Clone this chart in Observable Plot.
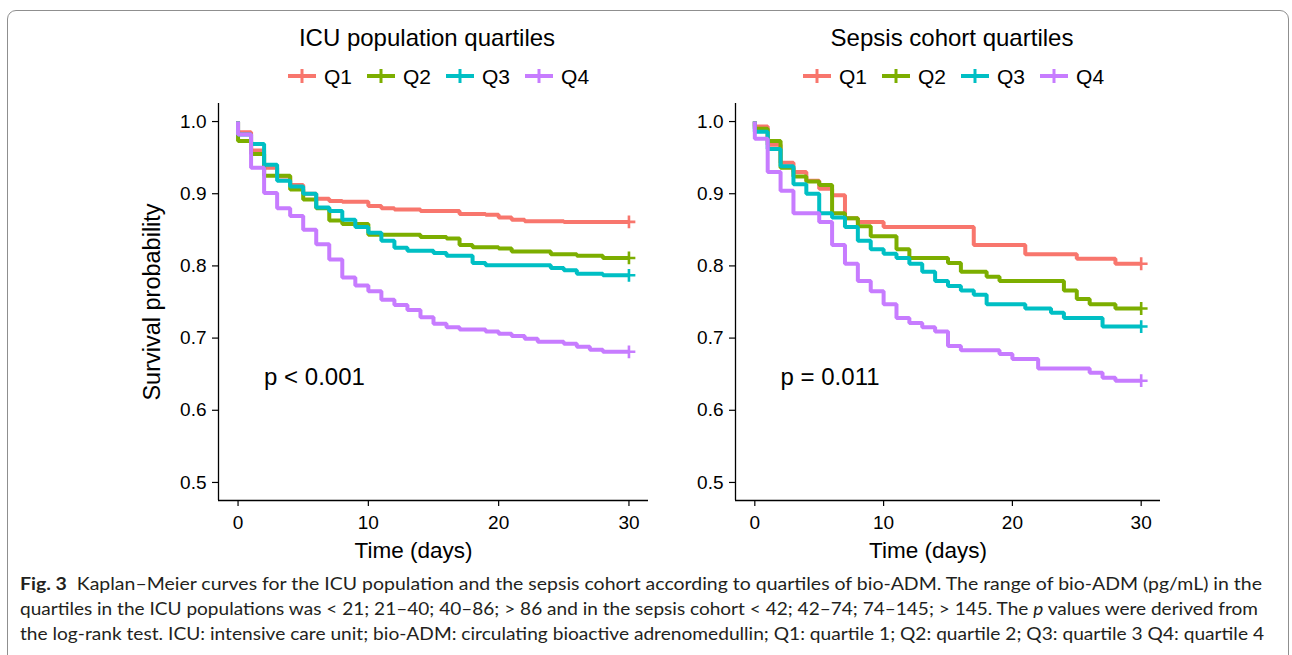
<!DOCTYPE html>
<html>
<head>
<meta charset="utf-8">
<script src="https://cdn.jsdelivr.net/npm/d3@7"></script>
<script src="https://cdn.jsdelivr.net/npm/@observablehq/plot@0.6"></script>
<style>
  html, body { margin: 0; padding: 0; background: #fff; }
  body { width: 1292px; height: 655px; overflow: hidden; position: relative; font-family: "Liberation Sans", Arial, sans-serif; color: #000; }
  #frame { position: absolute; left: 7px; top: 10px; width: 1282px; height: 690px; border: 1px solid #8f8f8f; border-radius: 9px; box-sizing: border-box; }
  .title { position: absolute; top: 26px; font-size: 24px; white-space: nowrap; transform: translateX(-50%); line-height: 1; }
  .legend { position: absolute; top: 64px; display: flex; align-items: center; height: 24px; }
  .legend .item { display: flex; align-items: center; margin-right: 15px; }
  .legend .lab { font-size: 21px; margin-left: 8px; line-height: 1; }
  .plot { position: absolute; top: 90px; }
  #caption { position: absolute; left: 0; top: 560px; }
</style>
</head>
<body>
<div id="frame"></div>
<div id="root"></div>
<script>
// ---------- data ----------
const quartiles = ["Q1", "Q2", "Q3", "Q4"];
const colors = ["#F8766D", "#7CAE00", "#00BFC4", "#C77CFF"];
const panelTitles = ["ICU population quartiles", "Sepsis cohort quartiles"];
const pValues = ["p < 0.001", "p = 0.011"];
const xTicks = [0, 10, 20, 30];
const yTicks = [0.5, 0.6, 0.7, 0.8, 0.9, 1.0];
const xLabel = "Time (days)";
const yLabel = "Survival probability";

// ICU population: [day, survival]
const icuQ1 = [[0,1],[0,0.985],[1,0.960],[2,0.936],[3,0.924],[4,0.912],[5,0.900],[6,0.893],[7,0.890],[8,0.889],[10,0.883],[11,0.880],[12,0.878],[14,0.876],[17,0.872],[19,0.871],[20,0.867],[21,0.864],[22,0.862],[25,0.861],[30,0.861]];
const icuQ2 = [[0,1],[0,0.973],[1,0.955],[2,0.925],[4,0.906],[5,0.892],[6,0.880],[7,0.863],[8,0.858],[10,0.843],[14,0.840],[16,0.838],[17,0.829],[18,0.826],[20,0.824],[21,0.820],[24,0.816],[26,0.814],[28,0.811],[30,0.811]];
const icuQ3 = [[0,1],[0,0.982],[1,0.969],[2,0.940],[3,0.918],[4,0.910],[5,0.900],[6,0.881],[7,0.876],[8,0.864],[9,0.854],[10,0.846],[11,0.835],[12,0.825],[13,0.821],[15,0.818],[16,0.814],[18,0.804],[19,0.801],[24,0.797],[25,0.794],[26,0.789],[28,0.787],[30,0.787]];
const icuQ4 = [[0,1],[0,0.982],[1,0.936],[2,0.901],[3,0.880],[4,0.869],[5,0.850],[6,0.830],[7,0.809],[8,0.784],[9,0.773],[10,0.765],[11,0.753],[12,0.746],[13,0.739],[14,0.729],[15,0.720],[16,0.715],[17,0.712],[19,0.709],[20,0.706],[21,0.703],[22,0.699],[23,0.695],[25,0.692],[26,0.688],[27,0.684],[28,0.681],[30,0.681]];

// Sepsis cohort: [day, survival]
const sepQ1 = [[0,1],[0,0.993],[1,0.968],[2,0.943],[3,0.930],[4,0.918],[5,0.907],[6,0.898],[7,0.866],[8,0.861],[10,0.854],[17,0.829],[21,0.816],[25,0.810],[28,0.803],[30,0.803]];
const sepQ2 = [[0,1],[0,0.990],[1,0.973],[2,0.936],[3,0.924],[4,0.917],[5,0.912],[6,0.873],[7,0.866],[8,0.855],[9,0.841],[11,0.823],[12,0.811],[15,0.804],[16,0.792],[18,0.785],[19,0.779],[24,0.766],[25,0.754],[26,0.747],[28,0.741],[30,0.741]];
const sepQ3 = [[0,1],[0,0.986],[1,0.962],[2,0.938],[3,0.913],[4,0.900],[5,0.873],[6,0.867],[7,0.854],[8,0.835],[9,0.823],[10,0.817],[11,0.811],[12,0.803],[13,0.792],[14,0.779],[15,0.772],[16,0.766],[17,0.760],[18,0.747],[21,0.741],[23,0.735],[24,0.728],[27,0.716],[30,0.716]];
const sepQ4 = [[0,1],[0,0.976],[1,0.930],[2,0.904],[3,0.873],[5,0.861],[6,0.829],[7,0.803],[8,0.779],[9,0.765],[10,0.747],[11,0.728],[12,0.721],[13,0.715],[14,0.709],[15,0.689],[16,0.683],[19,0.678],[20,0.671],[22,0.658],[26,0.652],[27,0.645],[28,0.641],[30,0.641]];

const captionLine1Bold = "Fig. 3";
const captionLine1 = "  Kaplan–Meier curves for the ICU population and the sepsis cohort according to quartiles of bio-ADM. The range of bio-ADM (pg/mL) in the";
const captionLine2a = "quartiles in the ICU populations was < 21; 21–40; 40–86; > 86 and in the sepsis cohort < 42; 42–74; 74–145; > 145. The ";
const captionLine2Italic = "p";
const captionLine2b = " values were derived from";
const captionLine3 = "the log-rank test. ICU: intensive care unit; bio-ADM: circulating bioactive adrenomedullin; Q1: quartile 1; Q2: quartile 2; Q3: quartile 3 Q4: quartile 4";

// ---------- drawing ----------
const FONT = "'Liberation Sans', Arial, sans-serif";
const root = document.getElementById("root");

function kmPlot(series, pText, opts) {
  const data = series.flatMap((s, i) => s.map(([t, v]) => ({t, v, q: quartiles[i]})));
  const ends = series.map((s, i) => ({t: s[s.length - 1][0], v: s[s.length - 1][1], q: quartiles[i]}));
  const marks = [
    Plot.ruleX([-1.5], {stroke: "#000", strokeWidth: 1.3}),
    Plot.ruleY([0.475], {stroke: "#000", strokeWidth: 1.3}),
    Plot.axisX({ticks: xTicks, tickSize: 6, tickPadding: 9, label: null, fontSize: 19, strokeWidth: 1.2}),
    Plot.axisY({ticks: yTicks, tickFormat: d => d.toFixed(1), tickSize: 6, tickPadding: 6, label: null, fontSize: 19, strokeWidth: 1.2}),
    Plot.line(data, {x: "t", y: "v", z: "q", stroke: "q", curve: "step-after", strokeWidth: 4, strokeLinejoin: "miter", strokeLinecap: "butt"}),
    Plot.dot(ends, {x: "t", y: "v", stroke: "q", symbol: "plus", r: 4.2, strokeWidth: 2.6}),
    Plot.text([pText], {x: 2, y: 0.645, text: d => d, textAnchor: "start", fontSize: 24, fill: "#000"}),
    Plot.text([xLabel], {frameAnchor: "bottom", text: d => d, textAnchor: "middle", dx: -20, dy: 57, lineAnchor: "bottom", fontSize: 22.5, fill: "#000"})
  ];
  if (opts.yLabel) {
    marks.push(Plot.text([yLabel], {frameAnchor: "left", text: d => d, textAnchor: "middle", rotate: -90, dx: -66, fontSize: 23.5, fill: "#000"}));
  }
  return Plot.plot({
    width: opts.width,
    height: 500,
    marginLeft: opts.marginLeft,
    marginRight: opts.marginRight,
    marginTop: 13,
    marginBottom: 90,
    x: {domain: [-1.5, 31.5]},
    y: {domain: [0.475, 1.025]},
    color: {domain: quartiles, range: colors},
    style: {fontFamily: FONT, fontSize: "19px", color: "#000", background: "transparent", overflow: "visible"},
    marks
  });
}

function addPanel(series, idx, left, opts, titleX, legendX) {
  const svg = kmPlot(series, pValues[idx], opts);
  svg.classList.add("plot");
  svg.style.left = left + "px";
  svg.style.position = "absolute";
  svg.style.top = "90px";
  root.appendChild(svg);

  const t = document.createElement("div");
  t.className = "title";
  t.style.left = titleX + "px";
  t.textContent = panelTitles[idx];
  root.appendChild(t);

  const lg = document.createElement("div");
  lg.className = "legend";
  lg.style.left = legendX + "px";
  quartiles.forEach((q, i) => {
    const it = document.createElement("div");
    it.className = "item";
    it.innerHTML = `<svg width="28" height="16" style="display:block"><line x1="0" x2="28" y1="8" y2="8" stroke="${colors[i]}" stroke-width="4"/><line x1="14" x2="14" y1="1" y2="15" stroke="${colors[i]}" stroke-width="3"/></svg><span class="lab">${q}</span>`;
    lg.appendChild(it);
  });
  root.appendChild(lg);
}

addPanel([icuQ1, icuQ2, icuQ3, icuQ4], 0, 120, {width: 540, marginLeft: 98, marginRight: 12, yLabel: true}, 427, 288);
addPanel([sepQ1, sepQ2, sepQ3, sepQ4], 1, 680, {width: 490, marginLeft: 55, marginRight: 10, yLabel: false}, 952, 803);

// caption
const NS = "http://www.w3.org/2000/svg";
const cap = document.createElementNS(NS, "svg");
cap.setAttribute("id", "caption");
cap.setAttribute("width", 1292);
cap.setAttribute("height", 95);
cap.style.position = "absolute";
cap.style.left = "0px";
cap.style.top = "560px";
cap.style.fontFamily = "Lato, 'Open Sans', sans-serif";
cap.style.fontSize = "16.5px";
cap.style.fill = "#231f20";
function capLine(y, len, parts) {
  const tx = document.createElementNS(NS, "text");
  tx.setAttribute("x", 20);
  tx.setAttribute("y", y);
  tx.setAttribute("textLength", len);
  tx.setAttribute("lengthAdjust", "spacingAndGlyphs");
  tx.setAttribute("xml:space", "preserve");
  tx.style.whiteSpace = "pre";
  parts.forEach(([s, style]) => {
    const sp = document.createElementNS(NS, "tspan");
    sp.textContent = s;
    if (style === "b") sp.setAttribute("font-weight", "bold");
    if (style === "i") sp.setAttribute("font-style", "italic");
    tx.appendChild(sp);
  });
  cap.appendChild(tx);
}
capLine(30, 1242, [[captionLine1Bold, "b"], [captionLine1, ""]]);
capLine(55, 1238, [[captionLine2a, ""], [captionLine2Italic, "i"], [captionLine2b, ""]]);
capLine(80, 1244, [[captionLine3, ""]]);
root.appendChild(cap);
</script>
</body>
</html>
